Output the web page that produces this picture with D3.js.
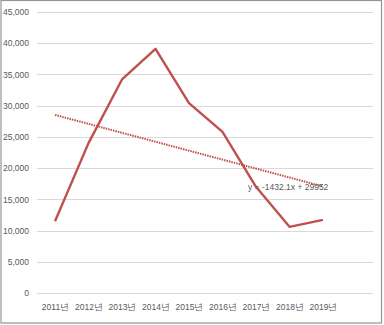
<!DOCTYPE html>
<html><head><meta charset="utf-8">
<script src="https://cdn.jsdelivr.net/npm/d3@7"></script>
<style>
html,body{margin:0;padding:0;background:#fff;}
svg{display:block;}
text{font-family:"Liberation Sans Narrow","Liberation Sans",Arial,sans-serif;fill:#595959;}
</style></head>
<body>
<script>
const categories = ["2011년","2012년","2013년","2014년","2015년","2016년","2017년","2018년","2019년"];
const values = [11500, 24000, 34200, 39100, 30400, 25800, 17000, 10600, 11700];
const yTicks = [0, 5000, 10000, 15000, 20000, 25000, 30000, 35000, 40000, 45000];
const trendSlope = -1432.1;
const trendIntercept = 29952;
const trendLabel = "y = -1432.1x + 29952";

const W = 384, H = 325;
const svg = d3.select("body").append("svg").attr("width", W).attr("height", H);

svg.append("rect").attr("x", 1).attr("y", 0.5).attr("width", 380.5).attr("height", 322.5)
  .attr("fill", "#fff").attr("stroke", "#959595").attr("stroke-width", 1.2);

const plotL = 37, plotR = 373;
const step = 33.5;
const x = d3.scalePoint().domain(categories).range([55, 55 + step * (categories.length - 1)]);
const y = d3.scaleLinear().domain([0, 45000]).range([293, 12]);

// gridlines
svg.append("g").selectAll("line").data(yTicks).join("line")
  .attr("x1", plotL).attr("x2", plotR)
  .attr("y1", d => Math.round(y(d)) + 0.5).attr("y2", d => Math.round(y(d)) + 0.5)
  .attr("stroke", "#d9d9d9").attr("stroke-width", 1);

// y axis labels
const yAxis = d3.axisLeft(y).tickValues(yTicks).tickSize(0).tickPadding(0)
  .tickFormat(d3.format(","));
const gy = svg.append("g").attr("transform", "translate(29,0)").call(yAxis);
gy.select(".domain").remove();
gy.selectAll("text").attr("font-size", "8.5px").attr("fill", "#595959")
  .style("font-family", '"Liberation Sans Narrow","Liberation Sans",Arial,sans-serif');

// x axis labels
const xAxis = d3.axisBottom(x).tickSize(0).tickPadding(0);
const gx = svg.append("g").attr("transform", "translate(0,304)").call(xAxis);
gx.select(".domain").remove();
gx.selectAll("text").attr("font-size", "8.5px").attr("fill", "#595959")
  .style("font-family", '"Liberation Sans Narrow","Liberation Sans",Arial,sans-serif');

// data line
const line = d3.line().x((d, i) => x(categories[i])).y(d => y(d));
svg.append("path").datum(values).attr("d", line)
  .attr("fill", "none").attr("stroke", "#c0504d").attr("stroke-width", 2.4)
  .attr("stroke-linejoin", "round");

// trendline
const tr = [categories[0], categories[categories.length - 1]].map(c => {
  const i = categories.indexOf(c) + 1;
  return [x(c), y(trendSlope * i + trendIntercept)];
});
svg.append("line")
  .attr("x1", tr[0][0]).attr("y1", tr[0][1]).attr("x2", tr[1][0]).attr("y2", tr[1][1])
  .attr("stroke", "#c0504d").attr("stroke-width", 2).attr("stroke-dasharray", "1.5,1");

svg.append("text").attr("x", 248).attr("y", 190)
  .attr("font-size", "8.5px").attr("fill", "#595959").text(trendLabel);
</script>
</body></html>
